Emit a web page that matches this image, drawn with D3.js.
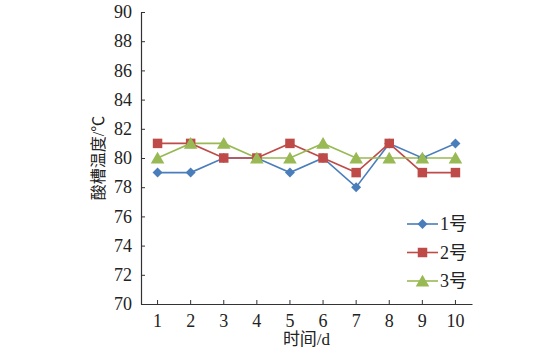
<!DOCTYPE html>
<html><head><meta charset="utf-8">
<script src="https://cdn.jsdelivr.net/npm/d3@7"></script>
<style>
html,body{margin:0;padding:0;background:#fff;}
svg{display:block;}
svg text{font-family:"Liberation Serif","Tinos","DejaVu Serif",serif;}
svg text.cjk{font-family:"Liberation Serif","Noto Sans CJK SC",serif;}
</style></head><body>
<svg id="chart" width="560" height="350"></svg>
<script>
const days = [1,2,3,4,5,6,7,8,9,10];
const tank1 = [79,79,80,80,79,80,78,81,80,81];
const tank2 = [81,81,80,80,81,80,79,81,79,79];
const tank3 = [80,81,81,80,80,81,80,80,80,80];
const seriesNames = ["1号","2号","3号"];
const yTicks = [70,72,74,76,78,80,82,84,86,88,90];

const colors = ["#4a7ebb","#be4b48","#98b954"];

// diamond drawn as a rotated square, square, triangle
const markers = [
  {type: d3.symbolSquare, size: 50, rot: 45, dy: 0},
  {type: d3.symbolSquare, size: 90, rot: 0, dy: 0},
  {type: d3.symbolTriangle, size: 80, rot: 0, dy: 1.5}
];

const svg = d3.select("#chart");
const plotLeft = 141, plotRight = 472, plotTop = 12, plotBottom = 304;

const x = d3.scaleBand().domain(days).range([plotLeft, plotRight]);
const y = d3.scaleLinear().domain([70, 90]).range([plotBottom, plotTop]);

function styleAxis(g) {
  g.attr("font-family", null).attr("font-size", null);
  g.select(".domain").attr("stroke", "#333").attr("stroke-width", 1.2);
  g.selectAll(".tick line").attr("stroke", "#333");
  g.selectAll(".tick text").attr("font-size", 18).attr("fill", "#222");
}

// y axis
svg.append("g").attr("transform", `translate(${plotLeft},0)`)
  .call(d3.axisLeft(y).tickValues(yTicks).tickSizeInner(-4).tickSizeOuter(0).tickPadding(9))
  .call(styleAxis);

// x axis
svg.append("g").attr("transform", `translate(0,${plotBottom})`)
  .call(d3.axisBottom(x).tickSizeInner(-4).tickSizeOuter(0).tickPadding(10))
  .call(styleAxis);

// axis titles
svg.append("text").attr("class", "cjk")
  .attr("transform", `translate(104,${(plotTop+plotBottom)/2}) rotate(-90)`)
  .attr("text-anchor", "middle").attr("font-size", 16).attr("fill", "#222")
  .text("酸槽温度/℃");
svg.append("text").attr("class", "cjk")
  .attr("x", (plotLeft+plotRight)/2).attr("y", 345)
  .attr("text-anchor", "middle").attr("font-size", 17).attr("fill", "#222")
  .text("时间/d");

// series
const allSeries = [tank1, tank2, tank3];
const cx = i => x(days[i]) + x.bandwidth()/2;
const line = d3.line().x((d, i) => cx(i)).y(d => y(d));
allSeries.forEach((vals, s) => {
  svg.append("path").datum(vals)
    .attr("fill", "none").attr("stroke", colors[s]).attr("stroke-width", 1.6)
    .attr("d", line);
});
allSeries.forEach((vals, s) => {
  const m = markers[s];
  svg.append("g").selectAll("path").data(vals).join("path")
    .attr("transform", (d, i) => `translate(${cx(i)},${y(d) + m.dy}) rotate(${m.rot})`)
    .attr("d", d3.symbol().type(m.type).size(m.size))
    .attr("fill", colors[s]);
});

// legend
const lg = svg.append("g");
seriesNames.forEach((name, s) => {
  const ly = 224 + s * 28.5;
  const m = markers[s];
  lg.append("line").attr("x1", 407).attr("x2", 438).attr("y1", ly).attr("y2", ly)
    .attr("stroke", colors[s]).attr("stroke-width", 1.6);
  lg.append("path").attr("transform", `translate(422.5,${ly + m.dy}) rotate(${m.rot})`)
    .attr("d", d3.symbol().type(m.type).size(m.size)).attr("fill", colors[s]);
  lg.append("text").attr("class", "cjk").attr("x", 440).attr("y", ly + 6)
    .attr("font-size", 18).attr("fill", "#222").text(name);
});
</script>
</body></html>
